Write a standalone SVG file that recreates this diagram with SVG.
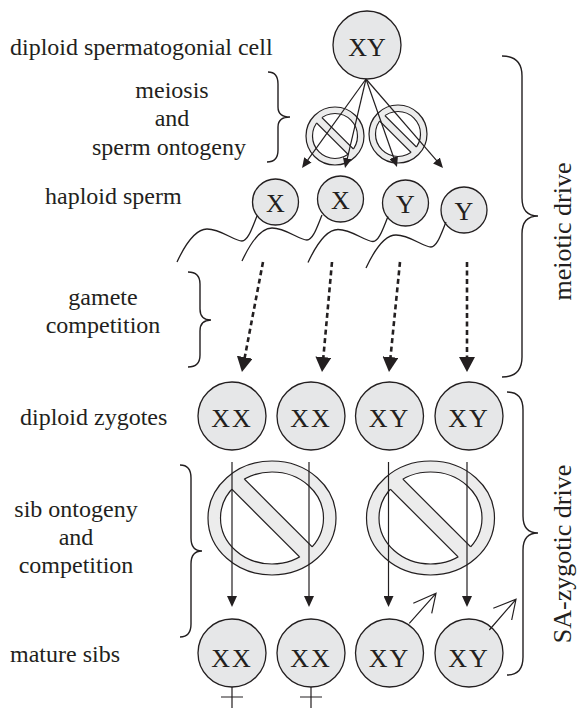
<svg xmlns="http://www.w3.org/2000/svg" width="581" height="708" viewBox="0 0 581 708">
<style>
.lbl{font-family:"Liberation Serif","Times New Roman",serif;font-size:24px;fill:#231f20}
.lblc{font-family:"Liberation Serif","Times New Roman",serif;font-size:24px;fill:#231f20;text-anchor:middle}
.side{font-family:"Liberation Serif","Times New Roman",serif;font-size:26px;fill:#231f20;text-anchor:middle}
.cell{fill:#e6e7e8;stroke:#231f20;stroke-width:1.3}
.ctext{font-family:"Liberation Serif","Times New Roman",serif;font-size:26px;fill:#231f20;text-anchor:middle}
.ring{fill:#ececec;stroke:#231f20;stroke-width:1.2}
.hole{fill:#fff;stroke:#231f20;stroke-width:1.2}
.edge{stroke:#231f20;stroke-width:1.2}
.brace{fill:none;stroke:#231f20;stroke-width:1.4}
.tail{fill:none;stroke:#231f20;stroke-width:1.3}
.arr{stroke:#231f20;stroke-width:1.2;fill:none}
.dot{stroke:#231f20;stroke-width:2.6;stroke-dasharray:5 3.5;fill:none}
</style>
<defs>
<marker id="hs" markerUnits="userSpaceOnUse" markerWidth="10" markerHeight="9" refX="1" refY="4.5" orient="auto" viewBox="0 0 10 9"><path d="M0,0L10,4.5L0,9z" fill="#231f20"/></marker>
<marker id="hm" markerUnits="userSpaceOnUse" markerWidth="11" markerHeight="10" refX="1" refY="5" orient="auto" viewBox="0 0 11 10"><path d="M0,0L11,5L0,10z" fill="#231f20"/></marker>
<marker id="hl" markerUnits="userSpaceOnUse" markerWidth="15" markerHeight="16" refX="2" refY="8" orient="auto" viewBox="0 0 15 16"><path d="M0,0L15,8L0,16z" fill="#231f20"/></marker>
<clipPath id="bU"><polygon points="-100,-111.3 100,88.7 100,-200 -100,-200"/></clipPath>
<clipPath id="bL"><polygon points="-100,-88.7 100,111.3 100,200 -100,200"/></clipPath>
<clipPath id="bI"><ellipse rx="51.5" ry="46"/></clipPath>
<clipPath id="sU"><polygon points="-50,-55.3 50,44.7 50,-100 -50,-100"/></clipPath>
<clipPath id="sL"><polygon points="-50,-44.7 50,55.3 50,100 -50,100"/></clipPath>
<clipPath id="sI"><circle r="22.5"/></clipPath>
<g id="smallSign">
<circle r="29" class="ring"/>
<g clip-path="url(#sU)"><circle r="22.5" class="hole"/></g>
<g clip-path="url(#sL)"><circle r="22.5" class="hole"/></g>
<g clip-path="url(#sI)"><line x1="-30" y1="-35.3" x2="30" y2="24.7" class="edge"/><line x1="-30" y1="-24.7" x2="30" y2="35.3" class="edge"/></g>
</g>
<g id="bigSign">
<ellipse rx="64" ry="57" class="ring"/>
<g clip-path="url(#bU)"><ellipse rx="51.5" ry="46" class="hole"/></g>
<g clip-path="url(#bL)"><ellipse rx="51.5" ry="46" class="hole"/></g>
<g clip-path="url(#bI)"><line x1="-60" y1="-71.3" x2="60" y2="48.7" class="edge"/><line x1="-60" y1="-48.7" x2="60" y2="71.3" class="edge"/></g>
</g>
<path id="tailShape" d="M257,216 C252,228 248,241 242,241 C234,241 221,229 207,229 C195,229 184,247 177,262" class="tail"/>
</defs>

<g id="labels">
<text class="lbl" x="10" y="55">diploid spermatogonial cell</text>
<text class="lblc" x="172" y="98">meiosis</text>
<text class="lblc" x="172" y="126">and</text>
<text class="lblc" x="169" y="155">sperm ontogeny</text>
<text class="lbl" x="45" y="204">haploid sperm</text>
<text class="lblc" x="103" y="305">gamete</text>
<text class="lblc" x="103" y="333">competition</text>
<text class="lbl" x="20" y="425">diploid zygotes</text>
<text class="lblc" x="76" y="517">sib ontogeny</text>
<text class="lblc" x="76" y="545">and</text>
<text class="lblc" x="76" y="573">competition</text>
<text class="lbl" x="10" y="662">mature sibs</text>
<text class="side" transform="translate(571,231.5) rotate(-90)">meiotic drive</text>
<text class="side" transform="translate(571,554) rotate(-90)">SA-zygotic drive</text>
</g>

<g id="braces">
<path class="brace" d="M268,72 Q278,72 278,84 L278,107 Q278,117 290,117 Q278,117 278,127 L278,150 Q278,162 267,162"/>
<path class="brace" d="M188,272 Q200,272 200,284 L200,309 Q200,320 211,320 Q200,320 200,331 L200,355 Q200,367 188,367"/>
<path class="brace" d="M180,465 Q191,465 191,478 L191,538 Q191,551 202,551 Q191,551 191,564 L191,624 Q191,637 180,637"/>
<path class="brace" d="M502,56 Q522,56 522,76 L522,198 Q522,216 538,216 Q522,216 522,234 L522,357 Q522,377 502,377"/>
<path class="brace" d="M507,392 Q523,392 523,410 L523,516 Q523,533 538,533 Q523,533 523,550 L523,657 Q523,675 507,675"/>
</g>

<g id="spermatogonium"><circle cx="367" cy="45" r="34" class="cell"/><text class="ctext" x="367" y="56">XY</text></g>
<g id="sign-meiosis-1"><use href="#smallSign" transform="translate(335,136)"/></g>
<g id="sign-meiosis-2"><use href="#smallSign" transform="translate(398,134)"/></g>

<g id="sperm-x1"><circle cx="275.5" cy="202" r="23" class="cell"/><text class="ctext" x="275.5" y="211.5">X</text><use href="#tailShape"/></g>
<g id="sperm-x2"><circle cx="340.5" cy="199" r="23" class="cell"/><text class="ctext" x="340.5" y="208.5">X</text><use href="#tailShape" transform="translate(65,-1)"/></g>
<g id="sperm-y1"><circle cx="405.5" cy="203" r="23" class="cell"/><text class="ctext" x="405.5" y="212.5">Y</text><use href="#tailShape" transform="translate(131,0.5)"/></g>
<g id="sperm-y2"><circle cx="464" cy="210" r="23" class="cell"/><text class="ctext" x="464" y="219.5">Y</text><use href="#tailShape" transform="translate(189,6)"/></g>

<g id="zygote-1"><circle cx="232" cy="416" r="34" class="cell"/><text class="ctext" x="232" y="427" letter-spacing="2">XX</text></g>
<g id="zygote-2"><circle cx="311" cy="416" r="34" class="cell"/><text class="ctext" x="311" y="427" letter-spacing="2">XX</text></g>
<g id="zygote-3"><circle cx="389.5" cy="416" r="34" class="cell"/><text class="ctext" x="389.5" y="427" letter-spacing="2">XY</text></g>
<g id="zygote-4"><circle cx="469" cy="416" r="34" class="cell"/><text class="ctext" x="469" y="427" letter-spacing="2">XY</text></g>

<g id="sign-sib-1"><use href="#bigSign" transform="translate(272,518)"/></g>
<g id="sign-sib-2"><use href="#bigSign" transform="translate(430.5,518)"/></g>

<g id="mature-1"><circle cx="232" cy="653" r="34" class="cell"/><text class="ctext" x="232" y="667" letter-spacing="2">XX</text><path class="arr" d="M232,687 V708 M221,697 H243"/></g>
<g id="mature-2"><circle cx="311" cy="653" r="34" class="cell"/><text class="ctext" x="311" y="667" letter-spacing="2">XX</text><path class="arr" d="M311,687 V708 M300,697 H322"/></g>
<g id="mature-3"><circle cx="389.5" cy="653" r="34" class="cell"/><text class="ctext" x="389.5" y="667" letter-spacing="2">XY</text><path class="arr" d="M409.3,623.3 L436,593.3 M413.3,603.3 L436,593.3 L431.7,613.3"/></g>
<g id="mature-4"><circle cx="469" cy="653" r="34" class="cell"/><text class="ctext" x="469" y="667" letter-spacing="2">XY</text><path class="arr" d="M489.3,630 L516,599.3 M493.3,608.3 L516,599.3 L511.7,620"/></g>

<g id="connectors">
<line class="arr" x1="366" y1="79" x2="307.3" y2="160.7" marker-end="url(#hs)"/>
<line class="arr" x1="366" y1="79" x2="347.1" y2="159.3" marker-end="url(#hs)"/>
<line class="arr" x1="366" y1="79" x2="394" y2="158.5" marker-end="url(#hs)"/>
<line class="arr" x1="366" y1="79" x2="437.1" y2="161.2" marker-end="url(#hs)"/>
<line class="dot" x1="263" y1="262" x2="244.4" y2="359.2" marker-end="url(#hl)"/>
<line class="dot" x1="332" y1="262" x2="323.2" y2="359.1" marker-end="url(#hl)"/>
<line class="dot" x1="400" y1="262" x2="390.3" y2="359.1" marker-end="url(#hl)"/>
<line class="dot" x1="467" y1="262" x2="467" y2="359" marker-end="url(#hl)"/>
<line class="arr" x1="232" y1="462" x2="232" y2="597" marker-end="url(#hm)"/>
<line class="arr" x1="309" y1="462" x2="309" y2="597" marker-end="url(#hm)"/>
<line class="arr" x1="388.5" y1="462" x2="388.5" y2="597" marker-end="url(#hm)"/>
<line class="arr" x1="467" y1="462" x2="467" y2="597" marker-end="url(#hm)"/>
</g>
</svg>
